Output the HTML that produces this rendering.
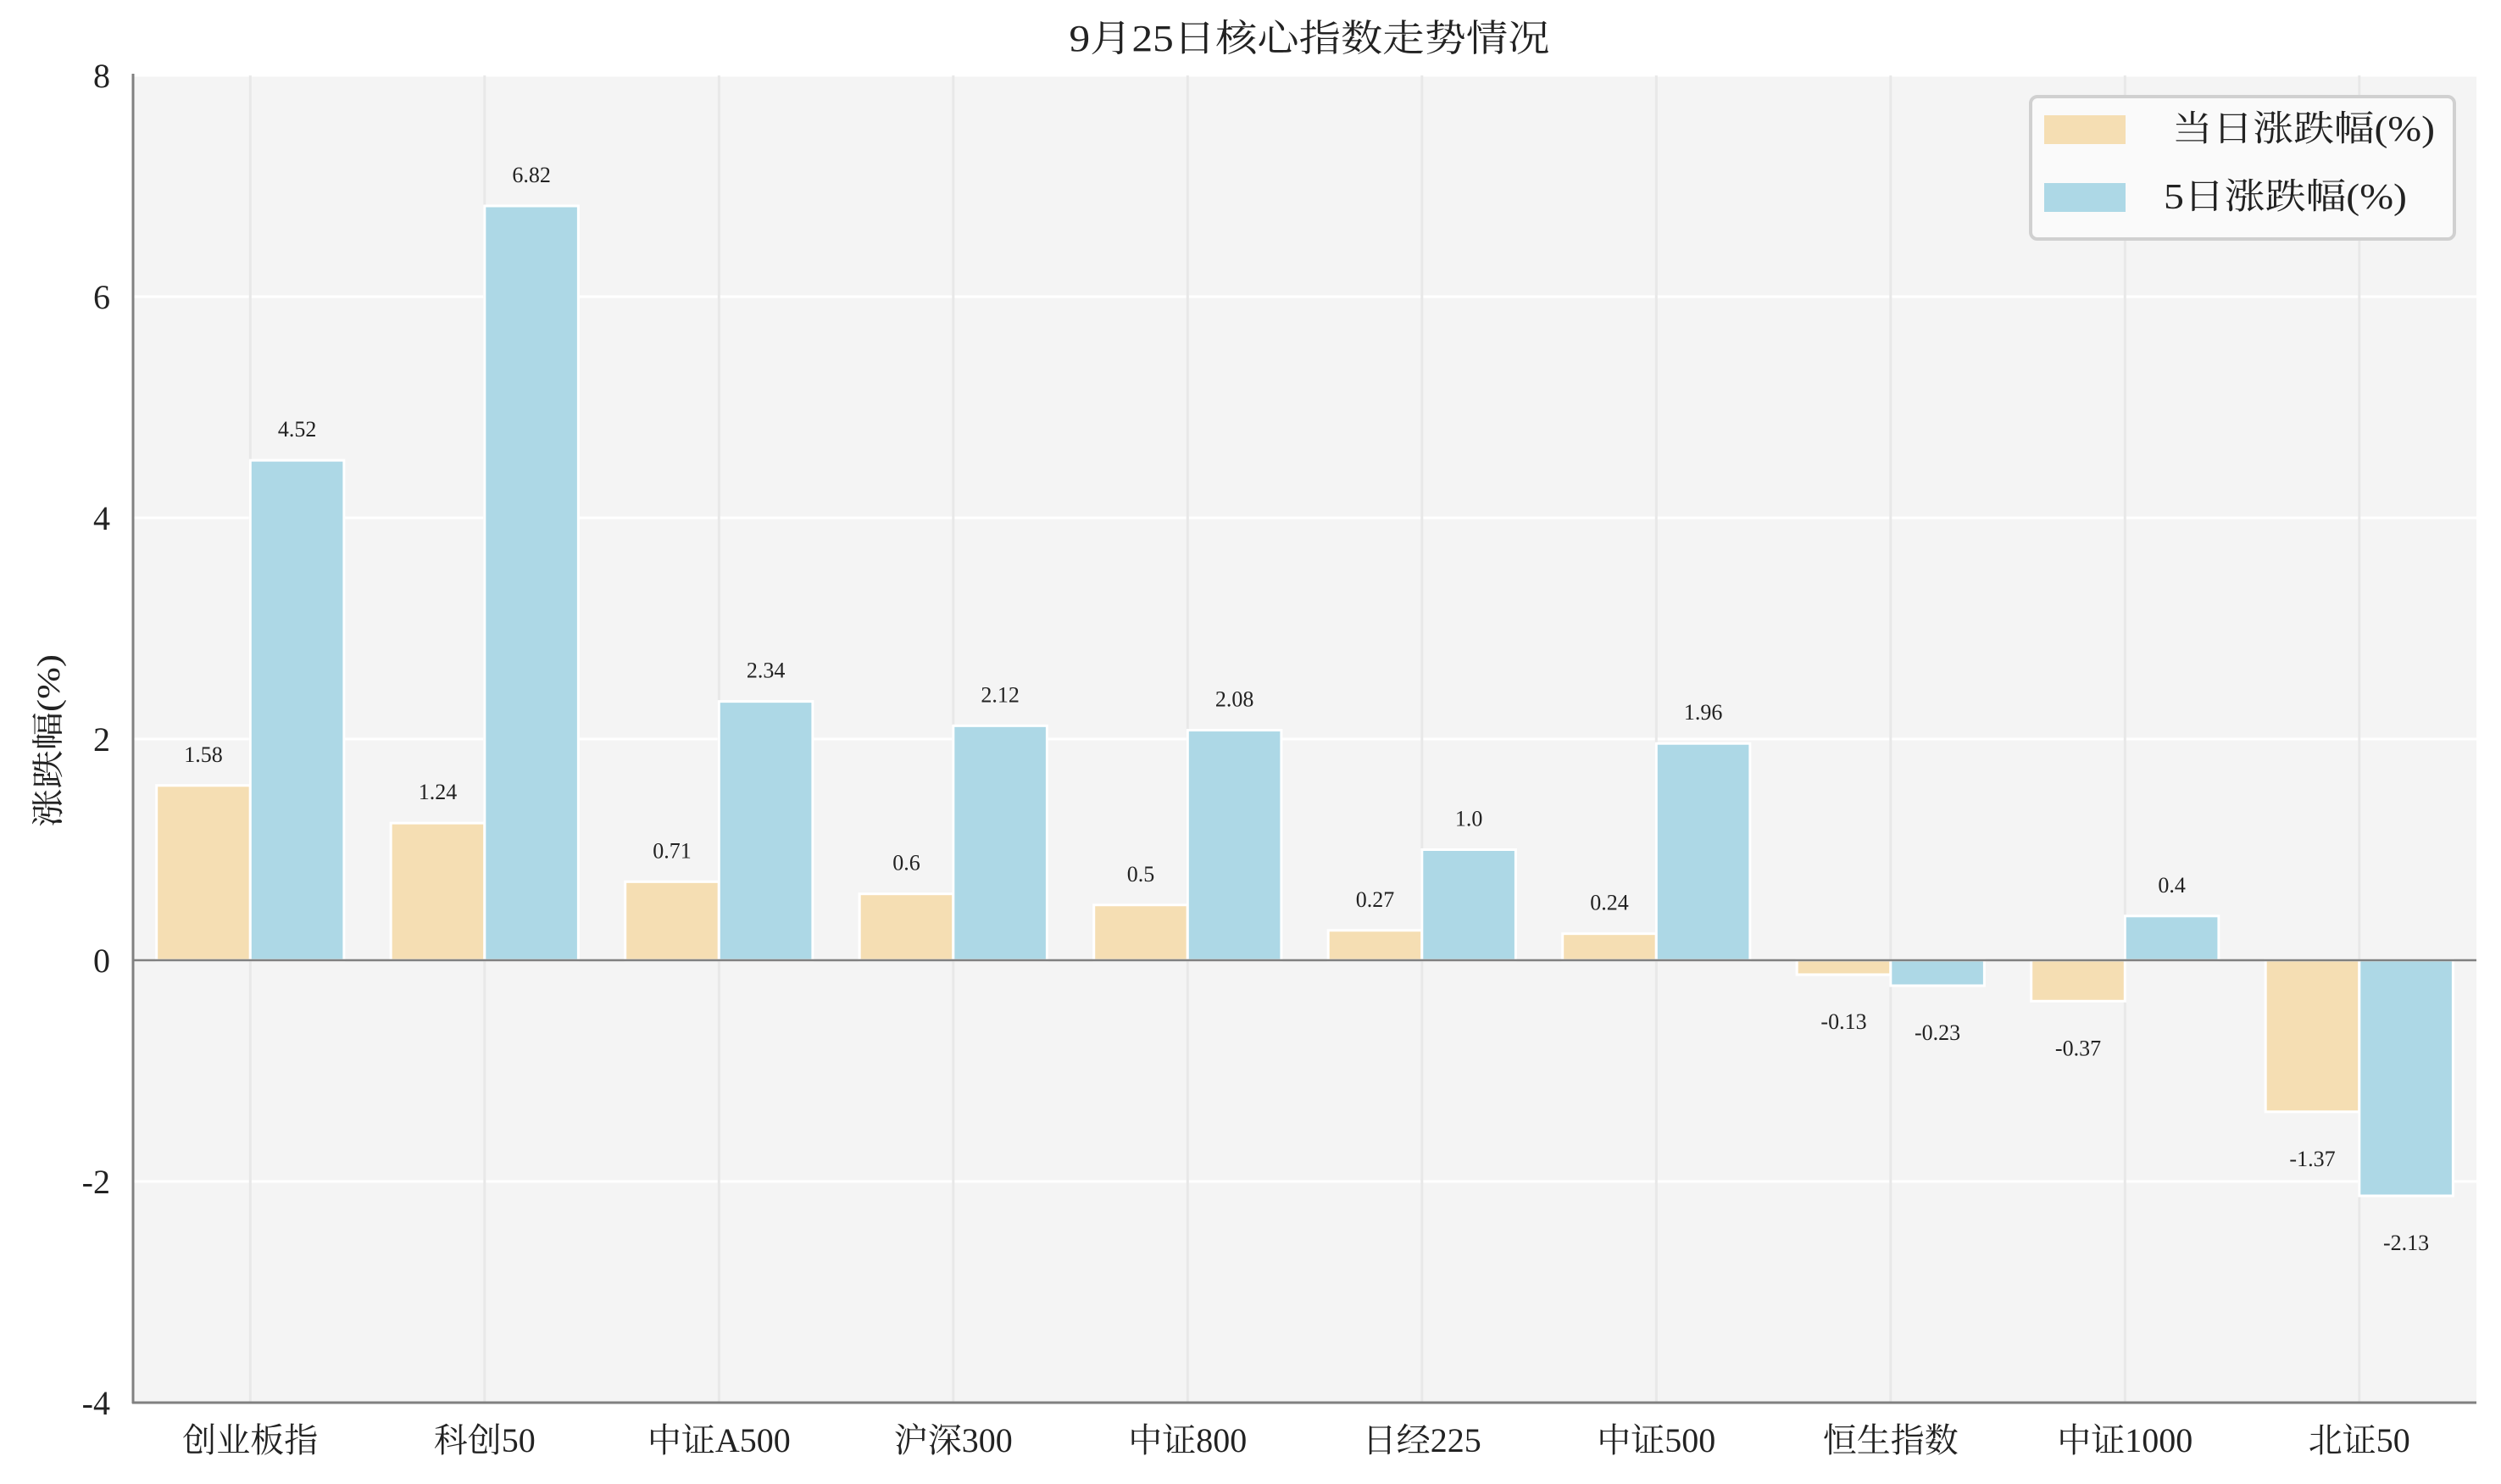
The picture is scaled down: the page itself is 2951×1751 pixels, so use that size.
<!DOCTYPE html>
<html><head><meta charset="utf-8"><style>
html,body{margin:0;padding:0;background:#fff;}
svg{display:block;font-family:"Liberation Serif","Noto Serif CJK SC",serif;}
</style></head><body>
<svg width="2951" height="1751" viewBox="0 0 2951 1751" xmlns="http://www.w3.org/2000/svg">
<rect x="157" y="89" width="2765" height="1566" fill="#f4f4f4"/>
<g stroke="#ffffff" stroke-width="3">
<line x1="157" x2="2922" y1="89" y2="89"/>
<line x1="157" x2="2922" y1="350" y2="350"/>
<line x1="157" x2="2922" y1="611" y2="611"/>
<line x1="157" x2="2922" y1="872" y2="872"/>
<line x1="157" x2="2922" y1="1394" y2="1394"/>
</g>
<g stroke="#e8e8e8" stroke-width="3" id="vg"></g>
<g id="bars"></g>
<line x1="157" x2="2922" y1="1133" y2="1133" stroke="#808080" stroke-width="2.5"/>
<line x1="157" x2="157" y1="87" y2="1656" stroke="#808080" stroke-width="3"/>
<line x1="156" x2="2922" y1="1655" y2="1655" stroke="#808080" stroke-width="3"/>
<g font-size="40" fill="#222" text-anchor="end">
<text x="130" y="103">8</text>
<text x="130" y="364">6</text>
<text x="130" y="625">4</text>
<text x="130" y="886">2</text>
<text x="130" y="1147">0</text>
<text x="130" y="1408">-2</text>
<text x="130" y="1669">-4</text>
</g>
<text transform="translate(70,874) rotate(-90)" font-size="38" fill="#222" text-anchor="middle" textLength="204" lengthAdjust="spacingAndGlyphs">涨跌幅(%)</text>
<text x="1545" y="60" font-size="44" fill="#222" text-anchor="middle" textLength="567" lengthAdjust="spacingAndGlyphs">9月25日核心指数走势情况</text>
<g id="xl" font-size="40" fill="#222" text-anchor="middle"></g>
<g id="vl" font-size="26" fill="#222" text-anchor="middle"></g>
<rect x="2396" y="114" width="500" height="168" rx="8" fill="#fafafa" stroke="#d0d0d0" stroke-width="4"/>
<rect x="2412" y="136" width="96" height="34" fill="#f5deb3"/>
<rect x="2412" y="216" width="96" height="34" fill="#add8e6"/>
<text x="2563" y="166" font-size="42" fill="#222" textLength="310" lengthAdjust="spacingAndGlyphs">当日涨跌幅(%)</text>
<text x="2553" y="246" font-size="42" fill="#222" textLength="287" lengthAdjust="spacingAndGlyphs">5日涨跌幅(%)</text>
</svg>
<script>
var names=["创业板指","科创50","中证A500","沪深300","中证800","日经225","中证500","恒生指数","中证1000","北证50"];
var a=[1.58,1.24,0.71,0.6,0.5,0.27,0.24,-0.13,-0.37,-1.37];
var b=[4.52,6.82,2.34,2.12,2.08,1.0,1.96,-0.23,0.4,-2.13];
var bs=["1.58","1.24","0.71","0.6","0.5","0.27","0.24","-0.13","-0.37","-1.37"];
var cs=["4.52","6.82","2.34","2.12","2.08","1.0","1.96","-0.23","0.4","-2.13"];
var ns="http://www.w3.org/2000/svg";
function el(p,t,at,tx){var e=document.createElementNS(ns,t);for(var k in at)e.setAttribute(k,at[k]);if(tx)e.textContent=tx;document.getElementById(p).appendChild(e);}
var sp=276.5,c0=295.3,z=1133,u=130.5,w=110.6;
for(var i=0;i<10;i++){
 var c=c0+sp*i;
 el("vg","line",{x1:c,x2:c,y1:89,y2:1655});
 [[a[i],c-w,"#f5deb3",bs[i]],[b[i],c,"#add8e6",cs[i]]].forEach(function(s){
  var v=s[0],y=v>=0?z-v*u:z,h=Math.abs(v)*u;
  el("bars","rect",{x:s[1],y:y,width:w,height:h,fill:s[2],stroke:"#fff","stroke-width":3});
  var ly=v>=0?(z-v*u-28):(z-v*u+64);
  el("vl","text",{x:s[1]+w/2,y:ly},s[3]);
 });
 el("xl","text",{x:c,y:1713},names[i]);
}
</script>
</body></html>
